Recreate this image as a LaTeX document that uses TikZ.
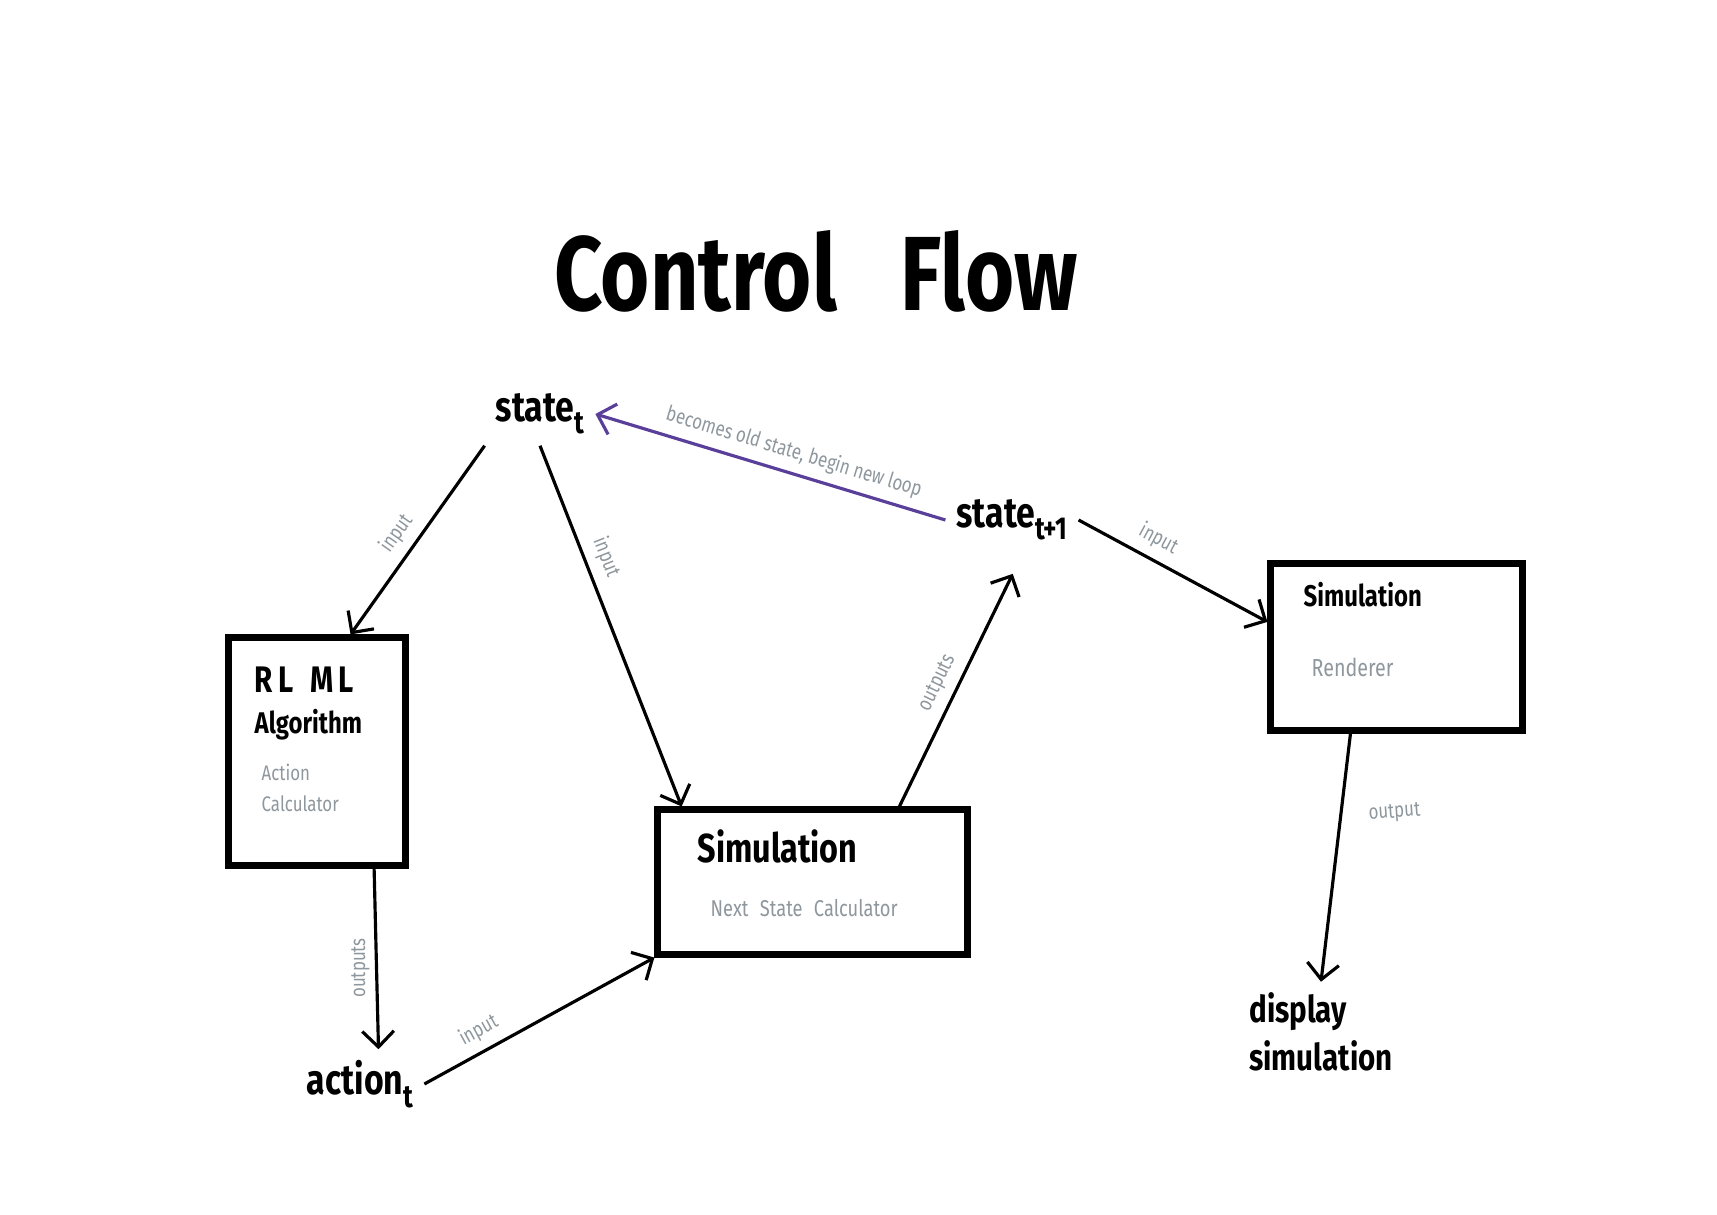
\documentclass[tikz,border=0pt]{standalone}
\usepackage{fontspec}
\setmainfont[FakeStretch=0.8]{Fira Sans}
\usetikzlibrary{arrows.meta}

\newcommand{\lowidx}[1]{\raisebox{-0.55ex}{\fontsize{9}{9}\selectfont #1}}

\begin{document}
\begin{tikzpicture}[x=0.01cm, y=-0.01cm,
    word/.style={font=\fontsize{12}{14}\selectfont\bfseries, inner sep=3pt},
    box/.style={draw=borderColour, line width=2pt, fill=white},
    boxtitle/.style={font=\fontsize{9.5}{11}\selectfont\bfseries, inner sep=0pt, anchor=west},
    boxnote/.style={font=\fontsize{6.5}{9}\selectfont, text=noteColour, inner sep=0pt, anchor=west, align=left},
    flow/.style={draw=borderColour, line width=0.9pt, -{Straight Barb[length=4.5pt, width=9pt]}},
    lbl/.style={font=\fontsize{6}{7}\selectfont, text=noteColour, inner sep=2.5pt}]
    % Define colours
    \definecolor{borderColour}{HTML}{000000}
    \definecolor{noteColour}{HTML}{8E979D}
    \definecolor{loopColour}{HTML}{5A3F9A}

    % Page size
    \fill[white] (0,0) rectangle (1717,1214);
    \useasboundingbox (0,0) rectangle (1717,1214);

    % Title
    \node[font=\fontsize{30}{36}\selectfont\bfseries] (title) at (816,271) {Control\hspace{0.6em}Flow};

    % State and action labels
    \node[word] (statet) at (540,414) {state\lowidx{t}};
    \node[word] (statenext) at (1012,520) {state\lowidx{t+1}};
    \node[word] (actiont) at (360,1084) {action\lowidx{t}};
    \node[word, align=left, font=\fontsize{10.5}{13.5}\selectfont\bfseries] (display) at (1321,1032) {display\\simulation};

    % Boxes
    \node[box, minimum width=1.76cm, minimum height=2.27cm] (rlml) at (317,751.5) {};
    \node[box, minimum width=3.09cm, minimum height=1.44cm] (sim) at (812.5,882) {};
    \node[box, minimum width=2.51cm, minimum height=1.66cm] (render) at (1396.5,647) {};

    % Text inside the boxes
    \node[boxtitle, font=\fontsize{10.5}{12}\selectfont\bfseries] (rlmlname) at (254,680) {R\hspace{0.15em}L\hspace{0.45em}M\hspace{0.15em}L};
    \node[boxtitle, font=\fontsize{8.5}{10}\selectfont\bfseries] (rlmlalgo) at (254,725) {Algorithm};
    \node[boxnote, font=\fontsize{6}{9}\selectfont] (rlmlnote) at (261,788) {Action\\Calculator};
    \node[boxtitle, font=\fontsize{11.5}{14}\selectfont\bfseries] (simname) at (697,846) {Simulation};
    \node[boxnote] (simnote) at (710,908) {Next\hspace{0.5em}State\hspace{0.5em}Calculator};
    \node[boxtitle, font=\fontsize{8.5}{10}\selectfont\bfseries] (rendername) at (1303,595) {Simulation};
    \node[boxnote, font=\fontsize{7}{9}\selectfont] (rendernote) at (1311,667) {Renderer};

    % Connectors
    \draw[flow] (statet.south west) -- node[lbl, sloped, above, pos=0.53] (in1) {input} (rlml.74);
    \draw[flow] (statet.south) -- node[lbl, sloped, above, pos=0.33] (in2) {input} (sim.150);
    \draw[flow, shorten >=7pt] (sim.41) -- node[lbl, sloped, above, pos=0.45] (out1) {outputs} (statenext.-70);
    \draw[flow, draw=loopColour] (statenext.west) -- node[lbl, sloped, above, pos=0.45] (loop) {becomes old state, begin new loop} (statet.east);
    \draw[flow] (statenext.east) -- node[lbl, sloped, above, pos=0.37] (in3) {input} (render.169);
    \draw[flow] (render.242) -- node[lbl, right=5pt, pos=0.33, rotate=4] (out2) {output} (display.north);
    \draw[flow] (rlml.-64) -- node[lbl, rotate=90, anchor=south, inner sep=1.5pt, pos=0.55] (out3) {outputs} (actiont.62);
    \draw[flow] (actiont.east) -- node[lbl, sloped, above, pos=0.28] (in4) {input} (sim.south west);

\end{tikzpicture}
\end{document}
